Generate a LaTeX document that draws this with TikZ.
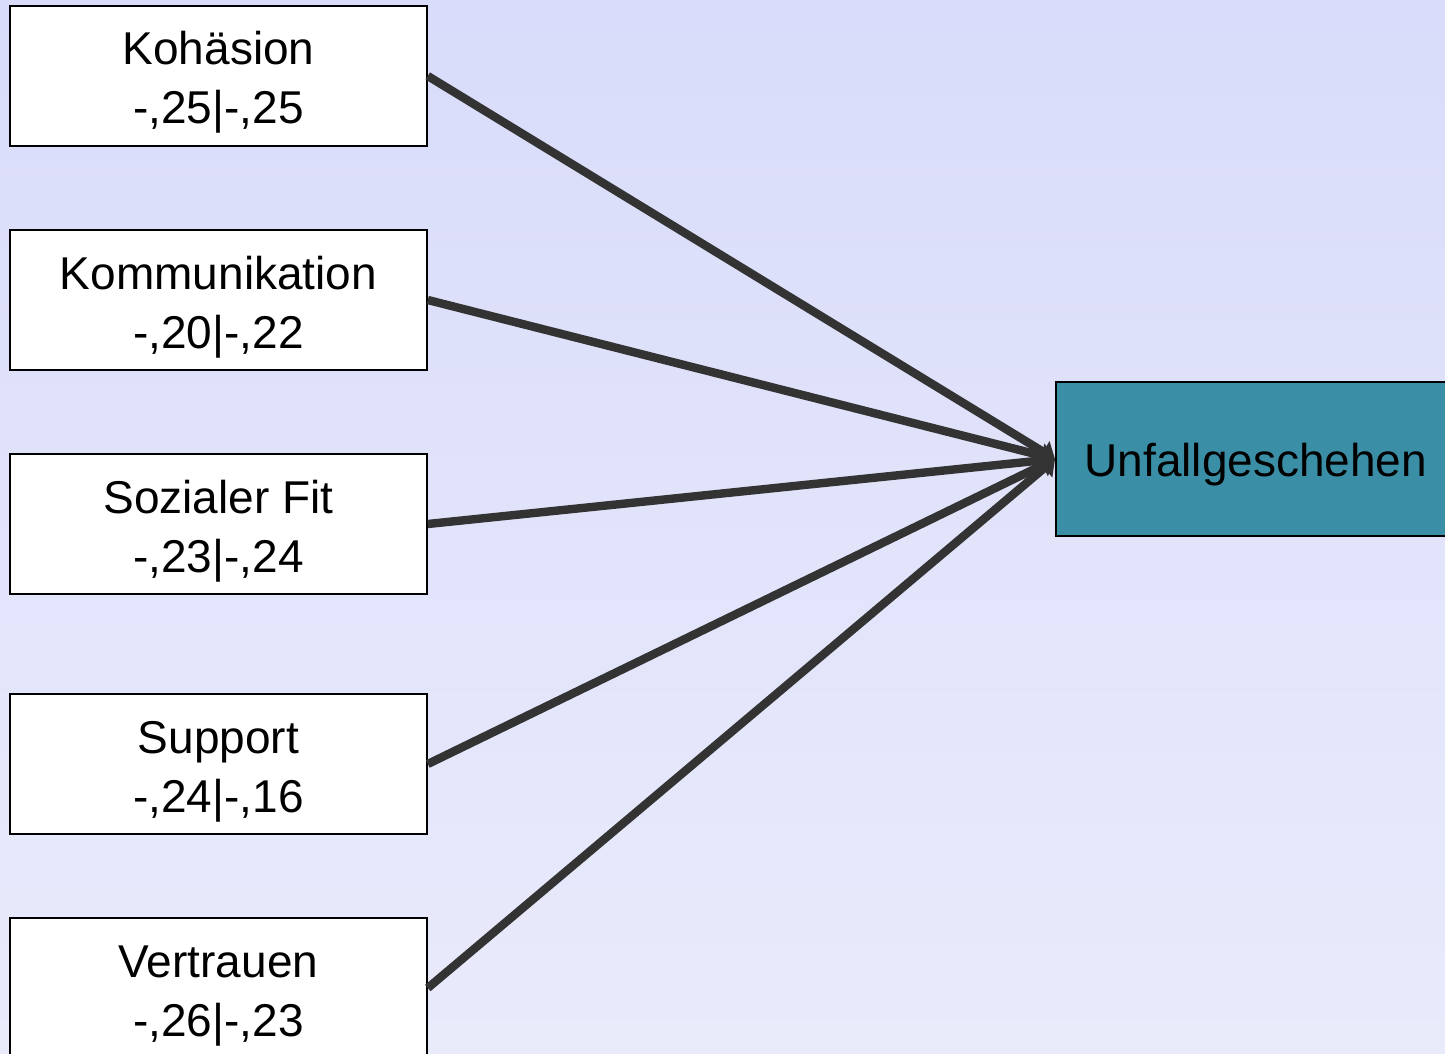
\documentclass[tikz,border=0pt]{standalone}
\usepackage{fontspec}
\setmainfont{Liberation Sans}
\usetikzlibrary{arrows.meta}
\definecolor{bgtop}{RGB}{217,220,250}
\definecolor{bgbot}{RGB}{233,235,251}
\definecolor{teal}{RGB}{58,143,166}
\definecolor{linegray}{RGB}{51,51,51}
\begin{document}
\begin{tikzpicture}[x=0.5pt,y=-0.5pt,
  factor/.style={draw=black,line width=0.8pt,fill=white,minimum width=208.5pt,minimum height=70pt,
    align=center,inner sep=0pt,text height=54pt,text depth=6pt,font=\fontsize{23}{29.5}\selectfont},
  outcome/.style={draw=black,line width=0.8pt,fill=teal,minimum width=200pt,minimum height=77pt,
    anchor=west,inner sep=0pt,text height=21.8pt,text depth=4.8pt,font=\fontsize{23}{28}\selectfont},
  conn/.style={draw=linegray,line width=4.2pt,-{Triangle[length=7pt,width=12pt]}}]
  \fill[top color=bgtop,bottom color=bgbot] (0,0) rectangle (1445,1054);
  \clip (0,0) rectangle (1445,1054);
  \node[factor] (koh) at (218.5,76) {Kohäsion\\-,25|-,25};
  \node[factor] (kom) at (218.5,300) {Kommunikation\\-,20|-,22};
  \node[factor] (soz) at (218.5,524) {Sozialer Fit\\-,23|-,24};
  \node[factor] (sup) at (218.5,764) {Support\\-,24|-,16};
  \node[factor] (ver) at (218.5,988) {Vertrauen\\-,26|-,23};
  \node[outcome] (unf) at (1055,459) {Unfallgeschehen};
  \foreach \src in {koh,kom,soz,sup,ver}
    \draw[conn] (\src.east) -- (unf.west);
\end{tikzpicture}
\end{document}
